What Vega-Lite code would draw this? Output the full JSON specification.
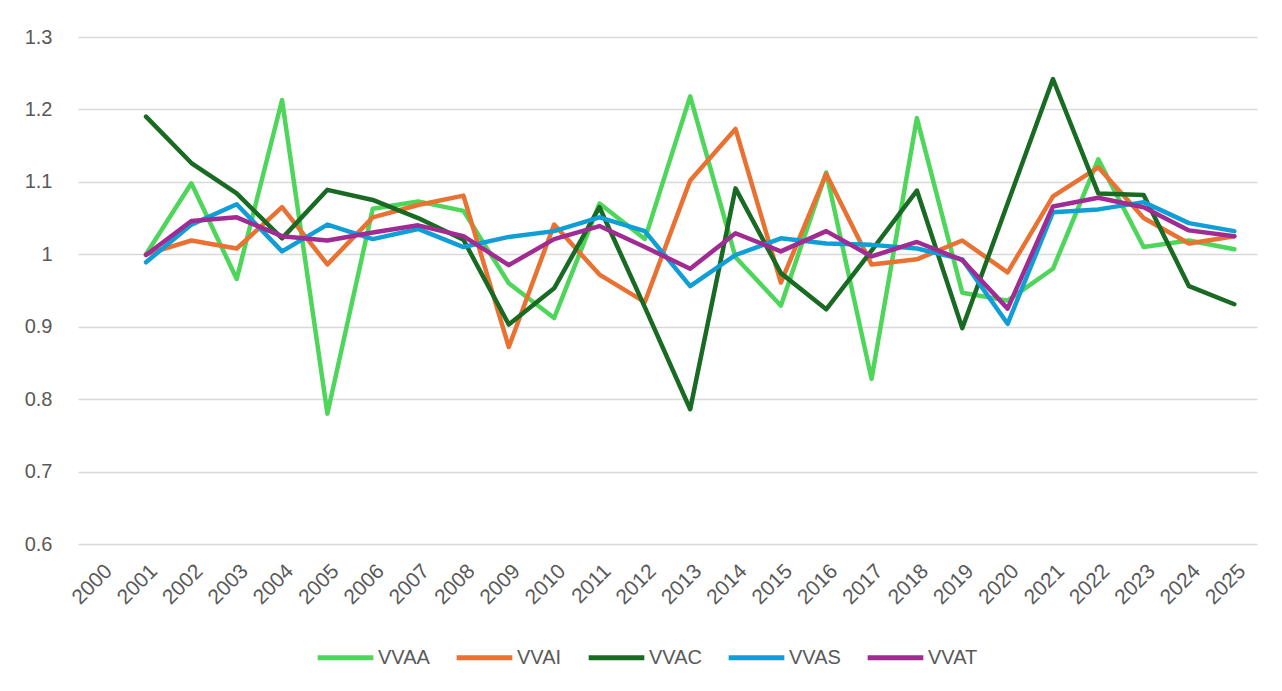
{
  "$schema": "https://vega.github.io/schema/vega-lite/v6.json",
  "autosize": {"type": "none"},
  "width": 1179,
  "height": 507,
  "padding": {"left": 78, "top": 37, "right": 25, "bottom": 147},
  "background": "white",
  "data": {
    "values": [
      {"year": "2001", "VVAA": 1.0, "VVAI": 1.0, "VVAC": 1.19, "VVAS": 0.989, "VVAT": 0.999},
      {"year": "2002", "VVAA": 1.098, "VVAI": 1.019, "VVAC": 1.126, "VVAS": 1.041, "VVAT": 1.046},
      {"year": "2003", "VVAA": 0.966, "VVAI": 1.008, "VVAC": 1.084, "VVAS": 1.069, "VVAT": 1.051},
      {"year": "2004", "VVAA": 1.213, "VVAI": 1.065, "VVAC": 1.022, "VVAS": 1.004, "VVAT": 1.025},
      {"year": "2005", "VVAA": 0.78, "VVAI": 0.986, "VVAC": 1.089, "VVAS": 1.041, "VVAT": 1.019},
      {"year": "2006", "VVAA": 1.063, "VVAI": 1.051, "VVAC": 1.075, "VVAS": 1.021, "VVAT": 1.03},
      {"year": "2007", "VVAA": 1.073, "VVAI": 1.068, "VVAC": 1.05, "VVAS": 1.035, "VVAT": 1.04},
      {"year": "2008", "VVAA": 1.06, "VVAI": 1.081, "VVAC": 1.02, "VVAS": 1.01, "VVAT": 1.025},
      {"year": "2009", "VVAA": 0.96, "VVAI": 0.872, "VVAC": 0.903, "VVAS": 1.024, "VVAT": 0.985},
      {"year": "2010", "VVAA": 0.912, "VVAI": 1.041, "VVAC": 0.953, "VVAS": 1.032, "VVAT": 1.021},
      {"year": "2011", "VVAA": 1.07, "VVAI": 0.972, "VVAC": 1.065, "VVAS": 1.051, "VVAT": 1.039},
      {"year": "2012", "VVAA": 1.021, "VVAI": 0.934, "VVAC": 0.927, "VVAS": 1.032, "VVAT": 1.01},
      {"year": "2013", "VVAA": 1.218, "VVAI": 1.102, "VVAC": 0.786, "VVAS": 0.956, "VVAT": 0.98},
      {"year": "2014", "VVAA": 0.996, "VVAI": 1.173, "VVAC": 1.091, "VVAS": 0.999, "VVAT": 1.029},
      {"year": "2015", "VVAA": 0.929, "VVAI": 0.961, "VVAC": 0.974, "VVAS": 1.022, "VVAT": 1.004},
      {"year": "2016", "VVAA": 1.113, "VVAI": 1.111, "VVAC": 0.924, "VVAS": 1.015, "VVAT": 1.032},
      {"year": "2017", "VVAA": 0.828, "VVAI": 0.986, "VVAC": 1.005, "VVAS": 1.013, "VVAT": 0.997},
      {"year": "2018", "VVAA": 1.188, "VVAI": 0.993, "VVAC": 1.088, "VVAS": 1.008, "VVAT": 1.017},
      {"year": "2019", "VVAA": 0.947, "VVAI": 1.019, "VVAC": 0.898, "VVAS": 0.993, "VVAT": 0.992},
      {"year": "2020", "VVAA": 0.936, "VVAI": 0.975, "VVAC": 1.07, "VVAS": 0.904, "VVAT": 0.925},
      {"year": "2021", "VVAA": 0.98, "VVAI": 1.08, "VVAC": 1.242, "VVAS": 1.058, "VVAT": 1.066},
      {"year": "2022", "VVAA": 1.131, "VVAI": 1.12, "VVAC": 1.084, "VVAS": 1.062, "VVAT": 1.078},
      {"year": "2023", "VVAA": 1.01, "VVAI": 1.05, "VVAC": 1.082, "VVAS": 1.072, "VVAT": 1.065},
      {"year": "2024", "VVAA": 1.019, "VVAI": 1.015, "VVAC": 0.956, "VVAS": 1.043, "VVAT": 1.033},
      {"year": "2025", "VVAA": 1.007, "VVAI": 1.025, "VVAC": 0.931, "VVAS": 1.032, "VVAT": 1.025}
    ]
  },
  "transform": [
    {"fold": ["VVAA", "VVAI", "VVAC", "VVAS", "VVAT"], "as": ["series", "value"]}
  ],
  "mark": {"type": "line", "strokeWidth": 4.5, "strokeCap": "round", "strokeJoin": "round"},
  "encoding": {
    "x": {
      "field": "year",
      "type": "ordinal",
      "scale": {"type": "point", "padding": 0.5, "domain": ["2000","2001","2002","2003","2004","2005","2006","2007","2008","2009","2010","2011","2012","2013","2014","2015","2016","2017","2018","2019","2020","2021","2022","2023","2024","2025"]},
      "axis": {
        "title": null,
        "labelAngle": -45,
        "labelFontSize": 21,
        "labelColor": "#595959",
        "labelFont": "Liberation Sans",
        "labelPadding": 16,
        "labelDx": -15,
        "labelDy": -10,
        "domain": false,
        "ticks": false,
        "grid": false
      }
    },
    "y": {
      "field": "value",
      "type": "quantitative",
      "scale": {"domain": [0.6, 1.3], "nice": false, "zero": false},
      "axis": {
        "title": null,
        "values": [0.6, 0.7, 0.8, 0.9, 1.0, 1.1, 1.2, 1.3],
        "format": ".1~f",
        "labelFontSize": 20,
        "labelColor": "#595959",
        "labelFont": "Liberation Sans",
        "labelPadding": 26,
        "domain": false,
        "ticks": false,
        "grid": true,
        "gridColor": "#d9d9d9",
        "gridWidth": 1.5
      }
    },
    "color": {
      "field": "series",
      "type": "nominal",
      "sort": ["VVAA", "VVAI", "VVAC", "VVAS", "VVAT"],
      "scale": {
        "domain": ["VVAA", "VVAI", "VVAC", "VVAS", "VVAT"],
        "range": ["#4ED65A", "#E97132", "#196B24", "#0F9ED5", "#A02B93"]
      },
      "legend": {
        "title": null,
        "orient": "none",
        "legendX": 237,
        "legendY": 590,
        "direction": "horizontal",
        "symbolType": "stroke",
        "symbolSize": 3100,
        "symbolStrokeWidth": 5,
        "labelFontSize": 20,
        "labelColor": "#595959",
        "labelFont": "Liberation Sans",
        "labelOffset": 2,
        "columnPadding": 16
      }
    }
  },
  "config": {
    "view": {"stroke": null}
  }
}
